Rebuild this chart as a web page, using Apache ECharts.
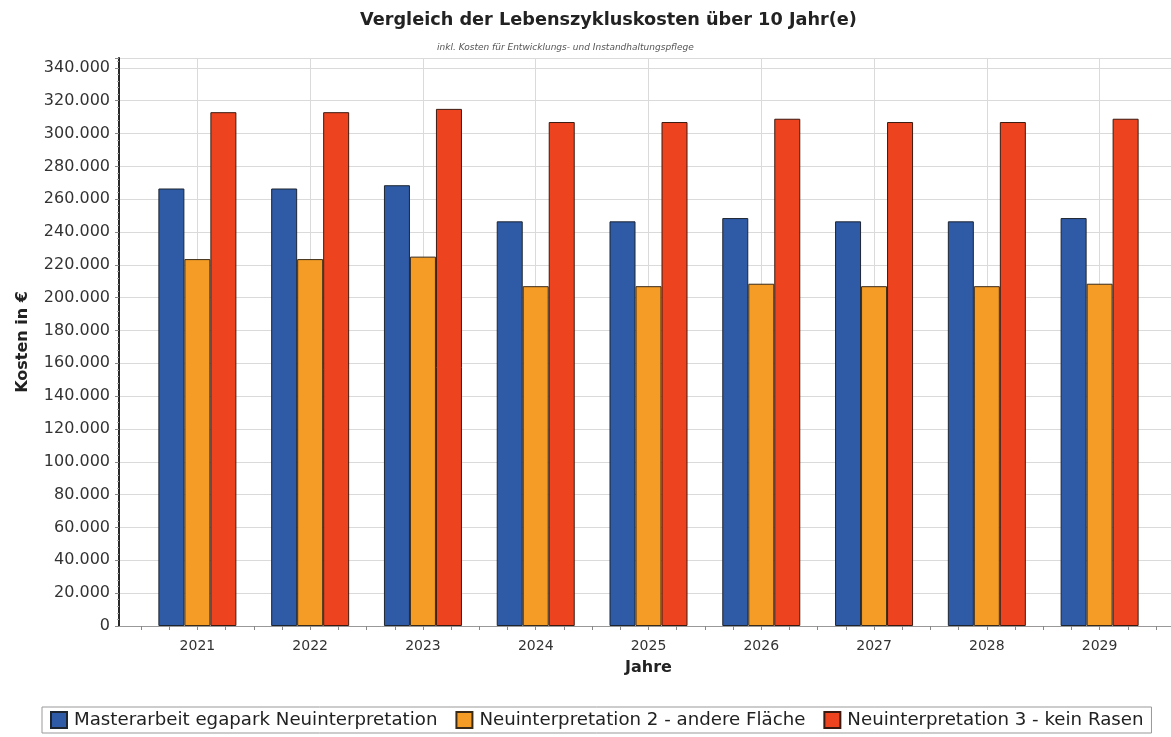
<!DOCTYPE html>
<html>
<head>
<meta charset="utf-8">
<script src="https://cdn.jsdelivr.net/npm/echarts@6/dist/echarts.min.js"></script>
<style>
  html, body { margin: 0; padding: 0; background: #fff; }
  #chart { width: 1171px; height: 737px; }
</style>
</head>
<body>
<div id="chart"></div>
<script>
// Daten
const jahre = ['2021', '2022', '2023', '2024', '2025', '2026', '2027', '2028', '2029'];
const masterarbeit = [266500, 266500, 268500, 246500, 246500, 248500, 246500, 246500, 248500];
const neuinterp2 = [223500, 223500, 225000, 207000, 207000, 208500, 207000, 207000, 208500];
const neuinterp3 = [313000, 313000, 315000, 307000, 307000, 309000, 307000, 307000, 309000];
const serienNamen = ['Masterarbeit egapark Neuinterpretation', 'Neuinterpretation 2 - andere Fläche', 'Neuinterpretation 3 - kein Rasen'];

const font = '"DejaVu Sans", "Liberation Sans", Arial, sans-serif';
const gridColor = '#dadada';

// Viertel-Schritte nur für die kleinen Striche an der x-Achse
const viertel = jahre.flatMap(j => [j + '.1', j + '.2', j + '.3', j + '.4']);

function tausender(v) {
  return String(v).replace(/\B(?=(\d{3})+(?!\d))/g, '.');
}

const myChart = echarts.init(document.getElementById('chart'));

const yBase = { type: 'value', min: 0, max: 346000, interval: 20000 };

const option = {
  backgroundColor: '#fff',
  animation: false,
  textStyle: { fontFamily: font },
  title: [
    {
      text: 'Vergleich der Lebenszykluskosten über 10 Jahr(e)',
      left: 355, top: 6,
      textStyle: { fontSize: 17.7, fontWeight: 'bold', color: '#222', fontFamily: font }
    },
    {
      text: 'inkl. Kosten für Entwicklungs- und Instandhaltungspflege',
      left: 432, top: 38,
      textStyle: { fontSize: 9, fontStyle: 'italic', fontWeight: 'normal', color: '#555', fontFamily: font }
    }
  ],
  grid: [
    // Balkenbereich
    { left: 141, right: 15, top: 58, bottom: 111 },
    // Achse und waagerechte Linien über die ganze Breite
    { left: 119, right: 0, top: 58, bottom: 111 }
  ],
  xAxis: [
    {
      type: 'category', gridIndex: 0, data: jahre,
      name: 'Jahre', nameLocation: 'middle', nameGap: 34,
      nameTextStyle: { fontSize: 16, fontWeight: 'bold', color: '#222' },
      axisLine: { show: false },
      axisTick: { show: false },
      axisLabel: { fontSize: 14, color: '#333', margin: 13 },
      splitLine: { show: true, alignWithLabel: true, lineStyle: { color: gridColor } }
    },
    {
      type: 'category', gridIndex: 0, data: viertel, position: 'bottom',
      axisLine: { show: false },
      axisTick: { show: true, interval: 0, length: 4, lineStyle: { color: '#888' } },
      axisLabel: { show: false },
      splitLine: { show: false }
    },
    {
      type: 'value', gridIndex: 1, min: 0, max: 1, position: 'bottom',
      axisLine: { show: true, lineStyle: { color: '#999' } },
      axisTick: { show: false }, axisLabel: { show: false }, splitLine: { show: false }
    }
  ],
  yAxis: [
    Object.assign({}, yBase, {
      gridIndex: 0,
      axisLine: { show: false }, axisTick: { show: false }, axisLabel: { show: false },
      splitLine: { show: false }
    }),
    Object.assign({}, yBase, {
      gridIndex: 1,
      name: 'Kosten in €', nameLocation: 'middle', nameGap: 88,
      nameTextStyle: { fontSize: 16, fontWeight: 'bold', color: '#222' },
      axisLine: { show: true, lineStyle: { color: '#111', width: 1.8 } },
      axisTick: { show: true, length: 4, lineStyle: { color: '#888' } },
      minorTick: { show: true, splitNumber: 5, length: 2, lineStyle: { color: '#aaa' } },
      axisLabel: { fontSize: 16, color: '#333', margin: 9, showMaxLabel: false, formatter: tausender },
      splitLine: { show: true, lineStyle: { color: gridColor } }
    })
  ],
  legend: {
    data: serienNamen,
    left: 42, bottom: 4, width: 1110,
    padding: [4, 8],
    borderColor: '#999', borderWidth: 1,
    itemGap: 18, itemWidth: 16, itemHeight: 16, icon: 'rect',
    textStyle: { fontSize: 18.2, color: '#222', padding: [0, 0, 0, 2] }
  },
  series: [
    {
      name: serienNamen[0], type: 'bar', data: masterarbeit, barWidth: 26, barGap: '0%',
      itemStyle: { color: '#2e5aa6', borderColor: '#1d2530', borderWidth: 1 }
    },
    {
      name: serienNamen[1], type: 'bar', data: neuinterp2, barWidth: 26, barGap: '0%',
      itemStyle: { color: '#f49c25', borderColor: '#3a2a18', borderWidth: 1 }
    },
    {
      name: serienNamen[2], type: 'bar', data: neuinterp3, barWidth: 26, barGap: '0%',
      itemStyle: { color: '#ee431f', borderColor: '#3a1a10', borderWidth: 1 }
    }
  ]
};

myChart.setOption(option);
</script>
</body>
</html>
